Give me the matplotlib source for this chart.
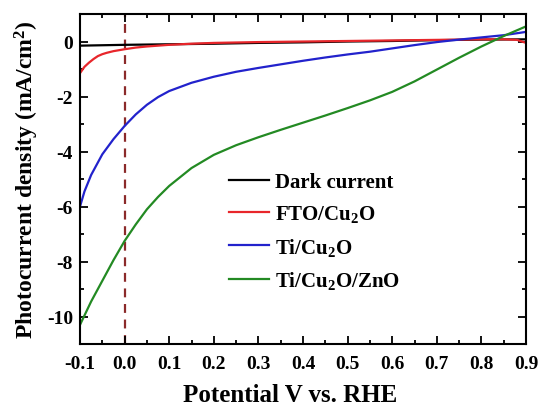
import matplotlib
matplotlib.use("Agg")
import matplotlib.pyplot as plt
from matplotlib.ticker import MultipleLocator

plt.rcParams['font.family'] = ['Liberation Serif', 'DejaVu Serif']
plt.rcParams['font.weight'] = 'bold'
plt.rcParams['mathtext.default'] = 'regular'
plt.rcParams['axes.unicode_minus'] = False

# J-V data (potential V vs. RHE, current density mA/cm2)
v_dark = [-0.1, 0.0, 0.1, 0.2, 0.3, 0.4, 0.5, 0.6, 0.7, 0.8, 0.9]
j_dark = [-0.15, -0.12, -0.1, -0.08, -0.05, -0.03, 0.0, 0.02, 0.05, 0.07, 0.08]

v_fto = [-0.1, -0.09, -0.08, -0.07, -0.06, -0.05, -0.04, -0.025, 0.0, 0.025, 0.05,
         0.1, 0.15, 0.2, 0.3, 0.4, 0.5, 0.6, 0.7, 0.8, 0.85, 0.88, 0.9]
j_fto = [-1.15, -0.92, -0.77, -0.64, -0.53, -0.46, -0.41, -0.35, -0.28, -0.22, -0.18,
         -0.12, -0.08, -0.05, -0.02, 0.0, 0.02, 0.04, 0.06, 0.08, 0.08, 0.06, -0.05]

v_ti = [-0.1, -0.09, -0.075, -0.05, -0.025, 0.0, 0.025, 0.05, 0.075, 0.1, 0.15, 0.2,
        0.25, 0.3, 0.35, 0.4, 0.45, 0.5, 0.55, 0.6, 0.65, 0.7, 0.75, 0.8, 0.85, 0.9]
j_ti = [-6.0, -5.45, -4.85, -4.1, -3.55, -3.07, -2.65, -2.3, -2.02, -1.8, -1.5, -1.28,
        -1.1, -0.96, -0.83, -0.7, -0.58, -0.47, -0.37, -0.25, -0.13, -0.02, 0.07, 0.15, 0.23, 0.35]

v_zno = [-0.1, -0.075, -0.05, -0.025, 0.0, 0.025, 0.05, 0.075, 0.1, 0.15, 0.2, 0.25,
         0.3, 0.35, 0.4, 0.45, 0.5, 0.55, 0.6, 0.65, 0.7, 0.75, 0.8, 0.85, 0.9]
j_zno = [-10.3, -9.45, -8.7, -7.95, -7.25, -6.65, -6.1, -5.65, -5.25, -4.6, -4.12, -3.77,
         -3.48, -3.21, -2.95, -2.69, -2.42, -2.14, -1.83, -1.45, -1.02, -0.59, -0.18, 0.2, 0.55]

xticks = [-0.1, 0.0, 0.1, 0.2, 0.3, 0.4, 0.5, 0.6, 0.7, 0.8, 0.9]
xticklabels = ['-0.1', '0.0', '0.1', '0.2', '0.3', '0.4', '0.5', '0.6', '0.7', '0.8', '0.9']

fig = plt.figure(figsize=(5.38, 4.06), dpi=100)
ax = fig.add_axes([0.1487, 0.150, 0.829, 0.813])

ax.axvline(0.0, color='#8b2a2a', lw=1.6, ls=(0, (4, 3)), zorder=1)
ax.plot(v_dark, j_dark, color='black', lw=1.6, label='Dark current')
ax.plot(v_fto, j_fto, color='#e8262b', lw=1.6, label='FTO/Cu$\\mathregular{_2}$O')
ax.plot(v_ti, j_ti, color='#2222cc', lw=1.6, label='Ti/Cu$\\mathregular{_2}$O')
ax.plot(v_zno, j_zno, color='#238a23', lw=1.6, label='Ti/Cu$\\mathregular{_2}$O/ZnO')

ax.set_xlim(-0.1, 0.9)
ax.set_ylim(-11, 1)
ax.set_xticks(xticks)
ax.set_xticklabels(xticklabels)
ax.xaxis.set_minor_locator(MultipleLocator(0.05))
ax.yaxis.set_major_locator(MultipleLocator(2))
ax.yaxis.set_minor_locator(MultipleLocator(1))
ax.tick_params(which='both', direction='in', top=True, right=True, width=1.3,
               labelsize=14)
ax.tick_params(axis='x', pad=8)
ax.tick_params(axis='y', pad=5)
ax.tick_params(which='major', length=6)
ax.tick_params(which='minor', length=3)
for s in ax.spines.values():
    s.set_linewidth(1.5)

ax.set_xlabel('Potential V vs. RHE', fontsize=18, fontweight='bold')
ax.xaxis.set_label_coords(0.471, -0.118)
ax.set_ylabel('Photocurrent density (mA/cm$^2$)', fontsize=17, fontweight='bold')
ax.yaxis.set_label_coords(-0.088, 0.5)

ax.legend(loc='upper left', bbox_to_anchor=(0.335, 0.522), frameon=False,
          fontsize=15, handlelength=1.9, handletextpad=0.3, labelspacing=0.55,
          borderpad=0, borderaxespad=0)

fig.savefig('out.png', dpi=100)
